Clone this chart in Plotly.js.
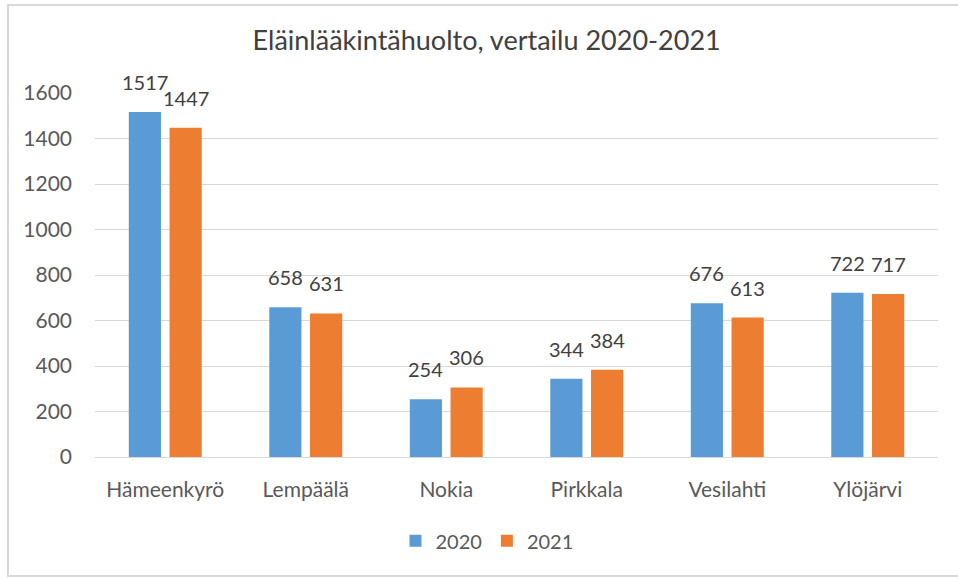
<!DOCTYPE html>
<html>
<head>
<meta charset="utf-8">
<script src="https://cdn.plot.ly/plotly-3.0.1.min.js"></script>
<style>
html,body{margin:0;padding:0;background:#fff;}
#chart{width:958px;height:578px;}
</style>
</head>
<body>
<div id="chart"></div>
<script>
const categories = ["Hämeenkyrö", "Lempäälä", "Nokia", "Pirkkala", "Vesilahti", "Ylöjärvi"];
const values2020 = [1517, 658, 254, 344, 676, 722];
const values2021 = [1447, 631, 306, 384, 613, 717];
const seriesNames = ["2020", "2021"];
const yTicks = [0, 200, 400, 600, 800, 1000, 1200, 1400, 1600];

const FONT = "Lato, 'Open Sans', 'Liberation Sans', sans-serif";
const TXT = "#595959";

const traces = [
  {type: "bar", name: seriesNames[0], x: categories, y: values2020, marker: {color: "#5b9bd5"}},
  {type: "bar", name: seriesNames[1], x: categories, y: values2021, marker: {color: "#ed7d31"}}
];

// data labels placed above each bar (bar value from the arrays, pixel offsets are styling)
const annotations = [];
[values2020, values2021].forEach((vals, si) => {
  vals.forEach((v, i) => {
    annotations.push({x: categories[i], y: v, xref: "x", yref: "y", text: String(v), showarrow: false,
      xanchor: "center", yanchor: "middle", xshift: si === 0 ? -20.3 : 20.3, yshift: 30,
      font: {family: FONT, size: 20, color: "#404040"}});
  });
});

const layout = {
  width: 958, height: 578,
  margin: {l: 95, r: 20, t: 93, b: 121},
  paper_bgcolor: "#ffffff", plot_bgcolor: "#ffffff",
  font: {family: FONT, color: TXT, size: 16},
  title: {text: "Eläinlääkintähuolto, vertailu 2020-2021", font: {family: FONT, size: 27, color: "#404040"},
          x: 0.508, xref: "container", xanchor: "center", y: 0.93, yanchor: "middle"},
  barmode: "group", bargap: 0.42, bargroupgap: 0.21,
  xaxis: {type: "category", showgrid: false, zeroline: false, showline: false, ticks: "",
          tickfont: {family: FONT, size: 21, color: TXT}, ticklabelstandoff: 18},
  yaxis: {range: [0, 1600], tickvals: yTicks, ticktext: yTicks.map(String), showgrid: true,
          gridcolor: "#d9d9d9", gridwidth: 1, zeroline: true, zerolinecolor: "#d9d9d9", zerolinewidth: 1,
          showline: false, ticks: "", tickfont: {family: FONT, size: 21, color: TXT}, ticklabelstandoff: 22},
  showlegend: true,
  legend: {orientation: "h", x: 0.465, xanchor: "center", y: -0.23, yanchor: "middle",
           font: {family: FONT, size: 20, color: TXT}, itemwidth: 30, traceorder: "normal"},
  annotations: annotations,
  shapes: [{type: "rect", xref: "paper", yref: "paper", x0: -0.1032, x1: 1.03, y0: -0.3269, y1: 1.2418,
            line: {color: "#d9d9d9", width: 2}, fillcolor: "rgba(0,0,0,0)", layer: "below"}]
};

Plotly.newPlot("chart", traces, layout, {displayModeBar: false, staticPlot: true});
</script>
</body>
</html>
